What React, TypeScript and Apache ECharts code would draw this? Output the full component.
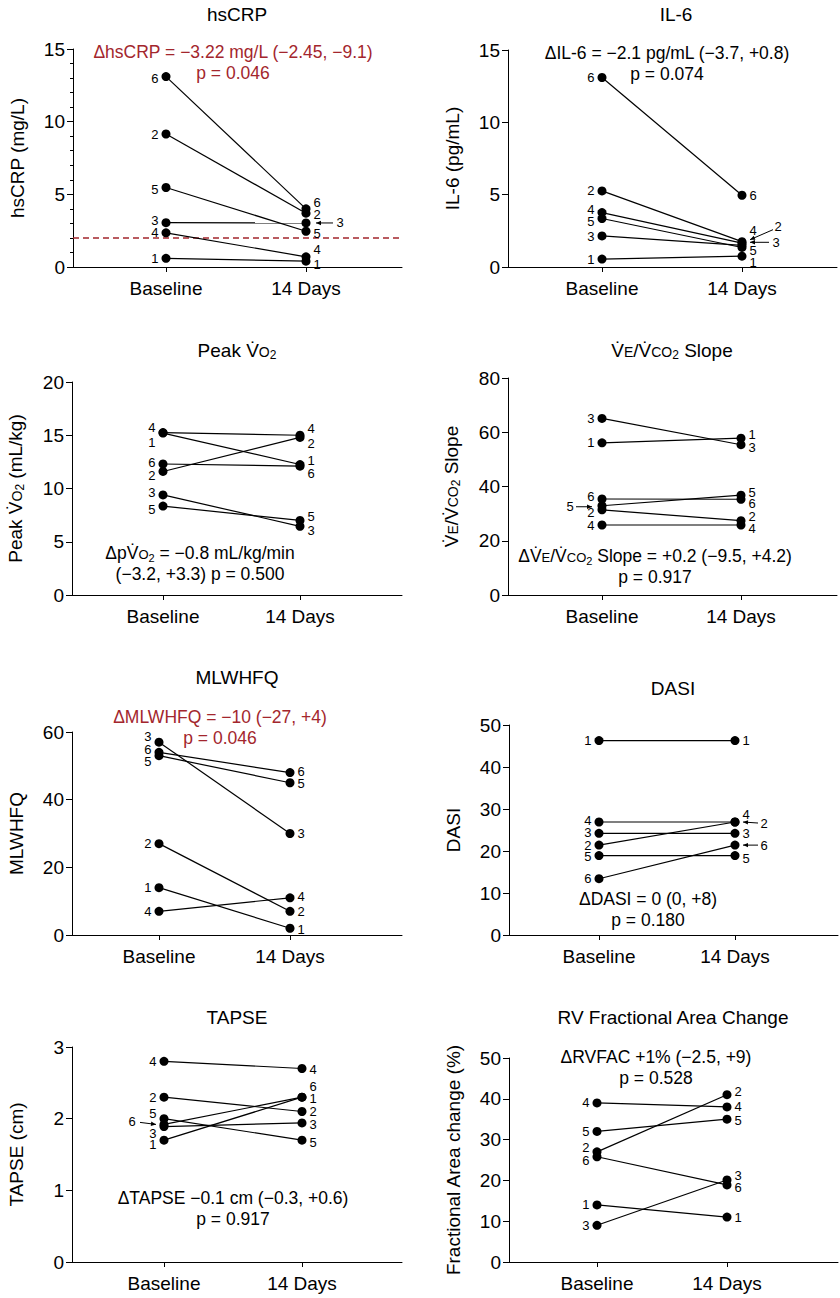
import { useEffect, useRef } from 'react';
import * as echarts from 'echarts';

const FONT = 'Liberation Sans, Arial, Helvetica, sans-serif';
const RED = '#a3262d';

// ---------------- data ----------------
const subjectIds = ['1', '2', '3', '4', '5', '6'];
const timepoints = ['Baseline', '14 Days'];

// values listed for subjects 1..6
const hsCRPBaseline = [0.6, 9.15, 3.05, 2.35, 5.47, 13.1];
const hsCRPDay14 = [0.4, 3.7, 3.03, 0.7, 2.46, 4.0];
const hsCRPThreshold = 2;

const il6Baseline = [0.55, 5.26, 2.15, 3.76, 3.35, 13.1];
const il6Day14 = [0.75, 1.75, 1.5, 1.65, 1.35, 4.96];

const vo2Baseline = [15.2, 11.6, 9.4, 15.25, 8.35, 12.3];
const vo2Day14 = [12.25, 14.8, 6.45, 15.0, 7.0, 12.1];

const veSlopeBaseline = [56.1, 31.4, 65.1, 25.8, 32.9, 35.4];
const veSlopeDay14 = [57.8, 27.4, 55.4, 25.8, 36.8, 35.3];

const mlwhfqBaseline = [14, 27, 57, 7, 53, 54];
const mlwhfqDay14 = [2, 7, 30, 11, 45, 48];

const dasiBaseline = [46.3, 21.4, 24.2, 26.9, 18.9, 13.4];
const dasiDay14 = [46.3, 26.9, 24.2, 26.9, 18.9, 21.4];

const tapseBaseline = [1.7, 2.3, 1.89, 2.8, 2.0, 1.92];
const tapseDay14 = [2.3, 2.1, 1.94, 2.7, 1.7, 2.3];

const rvfacBaseline = [14, 27, 9, 39, 32, 25.8];
const rvfacDay14 = [11, 41, 20.1, 38, 35, 18.9];

const yMax = [15, 15, 20, 80, 60, 50, 3, 50];
const yInterval = [5, 5, 5, 20, 20, 10, 1, 10];

const titles = [
  'hsCRP',
  'IL-6',
  'Peak V\u0307{sc|O}{sub|2}',
  'V\u0307{sc|E}/V\u0307{sc|CO}{sub|2} Slope',
  'MLWHFQ',
  'DASI',
  'TAPSE',
  'RV Fractional Area Change',
];
const yNames = [
  'hsCRP (mg/L)',
  'IL-6 (pg/mL)',
  'Peak V\u0307{sc|O}{sub|2} (mL/kg)',
  'V\u0307{sc|E}/V\u0307{sc|CO}{sub|2} Slope',
  'MLWHFQ',
  'DASI',
  'TAPSE (cm)',
  'Fractional Area change (%)',
];
const notes = [
  ['\u0394hsCRP = \u22123.22 mg/L (\u22122.45, \u22129.1)', 'p = 0.046'],
  ['\u0394IL-6 = \u22122.1 pg/mL (\u22123.7, +0.8)', 'p = 0.074'],
  ['\u0394pV\u0307{sc|O}{sub|2} = \u22120.8 mL/kg/min', '(\u22123.2, +3.3) p = 0.500'],
  ['\u0394V\u0307{sc|E}/V\u0307{sc|CO}{sub|2} Slope = +0.2 (\u22129.5, +4.2)', 'p = 0.917'],
  ['\u0394MLWHFQ = \u221210 (\u221227, +4)', 'p = 0.046'],
  ['\u0394DASI = 0 (0, +8)', 'p = 0.180'],
  ['\u0394TAPSE \u22120.1 cm (\u22120.3, +0.6)', 'p = 0.917'],
  ['\u0394RVFAC +1% (\u22122.5, +9)', 'p = 0.528'],
];
const noteRed = [true, false, false, false, true, false, false, false];

const panelData = [
  [hsCRPBaseline, hsCRPDay14],
  [il6Baseline, il6Day14],
  [vo2Baseline, vo2Day14],
  [veSlopeBaseline, veSlopeDay14],
  [mlwhfqBaseline, mlwhfqDay14],
  [dasiBaseline, dasiDay14],
  [tapseBaseline, tapseDay14],
  [rvfacBaseline, rvfacDay14],
];

// ---------------- layout (pixels) ----------------
// left axis x, right end x, top (max) y, bottom (0) y, baseline x, day14 x
const panelBox = [
  { l: 73, r: 402, t: 49, b: 267, bx: 166, dx: 306 },
  { l: 508, r: 837, t: 50, b: 267, bx: 602, dx: 742 },
  { l: 72, r: 402, t: 382, b: 595, bx: 163, dx: 300 },
  { l: 508, r: 837, t: 378, b: 595, bx: 602, dx: 741 },
  { l: 72, r: 402, t: 732, b: 935, bx: 159, dx: 290 },
  { l: 509, r: 838, t: 725, b: 935, bx: 599, dx: 735 },
  { l: 72, r: 402, t: 1047, b: 1262, bx: 164, dx: 302 },
  { l: 509, r: 838, t: 1058, b: 1262, bx: 597, dx: 727 },
];
const titlePos = [[237, 14], [676, 14], [237, 350], [672, 350], [237, 677], [673, 688], [237, 1017], [673, 1017]];
const notePos = [[233, 52], [667, 53], [200, 553], [655, 556], [220, 717], [648, 899], [233, 1198], [656, 1057]];

// label vertical nudges, subjects 1..6
const nudgeBase = [
  [0, 0, -2, 0, 2, 2],
  [0, 0, 1, -3, 3, 0],
  [9, 4, -2, -5, 3, -2],
  [0, 3, 0, 0, 0, -2],
  [0, 0, -6, 0, 6, -3],
  [0, 0, -1, -2, 1, 0],
  [4, 0, 7, 0, -5, 0],
  [0, -4, 0, 0, 0, 4],
];
const nudgeDay = [
  [3, 1, 0, -7, 2, -6],
  [6, 0, 0, -13, 3, 0],
  [-4, 6, 4, -7, -4, 7],
  [-4, -4, 3, 3, -3, 4],
  [1, 0, 0, -1, 1, -1],
  [0, 0, 0, -8, 3, 0],
  [1, 0, 2, 1, 2, -11],
  [0, -3, -4, 0, 1, 3],
];
// arrow labels: offsets relative to the dot
const arrowLabels = [
  { panel: 0, subject: 3, at: 1, label: [34, 0], from: [27, 0], to: [10, 0] },
  { panel: 1, subject: 2, at: 1, label: [36, -15], from: [31, -12], to: [8, -2] },
  { panel: 1, subject: 3, at: 1, label: [34, -3], from: [27, -3], to: [8, -3] },
  { panel: 3, subject: 5, at: 0, label: [-32, 1], from: [-26, 1], to: [-10, 1] },
  { panel: 5, subject: 2, at: 1, label: [29, 1], from: [23, 1], to: [8, 0] },
  { panel: 5, subject: 6, at: 1, label: [29, 0], from: [23, 0], to: [8, 0] },
  { panel: 6, subject: 6, at: 0, label: [-32, -3], from: [-24, -2], to: [-8, 0] },
];

const BIG = 19;
const NOTE = 17.5;
const PT = 13;

const rich = {
  sc: { fontSize: 14, padding: [3, 0, 0, 0] },
  sub: { fontSize: 12, padding: [10, 0, 0, 0] },
};
const richNote = {
  sc: { fontSize: 13, padding: [3, 0, 0, 0] },
  sub: { fontSize: 11, padding: [9, 0, 0, 0] },
};

function buildOption() {
  const grid: any[] = [];
  const xAxis: any[] = [];
  const yAxis: any[] = [];
  const series: any[] = [];
  panelBox.forEach((bx, p) => {
    const span = bx.dx - bx.bx;
    grid.push({ left: bx.l, top: bx.t, width: bx.r - bx.l, height: bx.b - bx.t, containLabel: false });
    xAxis.push({
      type: 'value',
      gridIndex: p,
      min: -(bx.bx - bx.l) / span,
      max: 1 + (bx.r - bx.dx) / span,
      splitLine: { show: false },
      axisLine: { show: true, onZero: false, lineStyle: { color: '#000', width: 1 } },
      axisTick: { show: true, customValues: [0, 1], length: 5, lineStyle: { color: '#000' } },
      axisLabel: {
        customValues: [0, 1],
        formatter: (v: number) => (v === 0 ? timepoints[0] : v === 1 ? timepoints[1] : ''),
        color: '#000',
        fontSize: BIG,
        fontFamily: FONT,
        margin: 12,
      },
    });
    yAxis.push({
      type: 'value',
      gridIndex: p,
      min: 0,
      max: yMax[p],
      interval: yInterval[p],
      splitLine: { show: false },
      axisLine: { show: true, onZero: false, lineStyle: { color: '#000', width: 1 } },
      axisTick: { show: true, length: 6, lineStyle: { color: '#000' } },
      minorTick: p === 0 ? { show: true, splitNumber: 5, length: 3, lineStyle: { color: '#000' } } : { show: false },
      axisLabel: { color: '#000', fontSize: BIG, fontFamily: FONT, margin: 8 },
      name: yNames[p],
      nameLocation: 'middle',
      nameGap: 46,
      nameTextStyle: { color: '#000', fontSize: BIG, fontFamily: FONT, rich },
    });
    const [base, day] = panelData[p];
    subjectIds.forEach((sid, i) => {
      const hasArrowBase = arrowLabels.some((a) => a.panel === p && a.subject === i + 1 && a.at === 0);
      const hasArrowDay = arrowLabels.some((a) => a.panel === p && a.subject === i + 1 && a.at === 1);
      const s: any = {
        type: 'line',
        xAxisIndex: p,
        yAxisIndex: p,
        symbol: 'circle',
        symbolSize: 9,
        silent: true,
        itemStyle: { color: '#000' },
        lineStyle: { color: '#000', width: 1.2 },
        label: { fontSize: PT, lineHeight: 10, color: '#000', fontFamily: FONT },
        z: 3,
        data: [
          {
            value: [0, base[i]],
            label: { show: !hasArrowBase, position: 'left', distance: 3, offset: [0, nudgeBase[p][i]], formatter: sid },
          },
          {
            value: [1, day[i]],
            label: { show: !hasArrowDay, position: 'right', distance: 3, offset: [0, nudgeDay[p][i]], formatter: sid },
          },
        ],
      };
      if (p === 0 && i === 0) {
        s.markLine = {
          silent: true,
          symbol: 'none',
          label: { show: false },
          lineStyle: { type: [6, 4], color: RED, width: 1.5 },
          data: [{ yAxis: hsCRPThreshold }],
          z: 1,
        };
      }
      series.push(s);
    });
  });
  return {
    animation: false,
    backgroundColor: '#fff',
    textStyle: { fontFamily: FONT },
    grid,
    xAxis,
    yAxis,
    series,
  };
}

export default function App() {
  const ref = useRef<HTMLDivElement>(null);
  useEffect(() => {
    document.body.style.margin = '0';
    if (!ref.current) return;
    const chart = echarts.init(ref.current, null, { renderer: 'svg' });
    chart.setOption(buildOption() as any);

    const elements: any[] = [];
    titles.forEach((t, p) => {
      elements.push({
        type: 'text',
        x: titlePos[p][0],
        y: titlePos[p][1],
        style: { text: t, rich, fontSize: BIG, fontFamily: FONT, fill: '#000', align: 'center', verticalAlign: 'middle' },
      });
    });
    notes.forEach((lines, p) => {
      lines.forEach((ln, k) => {
        elements.push({
          type: 'text',
          x: notePos[p][0],
          y: notePos[p][1] + k * 21,
          style: {
            text: ln,
            rich: richNote,
            fontSize: NOTE,
            lineHeight: 19,
            fontFamily: FONT,
            fill: noteRed[p] ? RED : '#000',
            align: 'center',
            verticalAlign: 'middle',
          },
        });
      });
    });
    arrowLabels.forEach((a) => {
      const v = panelData[a.panel][a.at][a.subject - 1];
      const pt = chart.convertToPixel({ gridIndex: a.panel }, [a.at, v]) as number[];
      const [px, py] = pt;
      elements.push({
        type: 'text',
        x: px + a.label[0],
        y: py + a.label[1],
        style: {
          text: subjectIds[a.subject - 1],
          fontSize: PT,
          lineHeight: 10,
          fontFamily: FONT,
          fill: '#000',
          align: 'center',
          verticalAlign: 'middle',
        },
      });
      const x1 = px + a.from[0];
      const y1 = py + a.from[1];
      const x2 = px + a.to[0];
      const y2 = py + a.to[1];
      elements.push({
        type: 'line',
        shape: { x1, y1, x2, y2 },
        style: { stroke: '#000', lineWidth: 1 },
      });
      const dxv = x2 - x1;
      const dyv = y2 - y1;
      const len = Math.sqrt(dxv * dxv + dyv * dyv) || 1;
      const ux = dxv / len;
      const uy = dyv / len;
      const hl = 5;
      const hw = 2.2;
      elements.push({
        type: 'polygon',
        shape: {
          points: [
            [x2, y2],
            [x2 - ux * hl - uy * hw, y2 - uy * hl + ux * hw],
            [x2 - ux * hl + uy * hw, y2 - uy * hl - ux * hw],
          ],
        },
        style: { fill: '#000' },
      });
    });
    chart.setOption({ graphic: { elements } } as any);

    return () => {
      chart.dispose();
    };
  }, []);
  return <div ref={ref} style={{ width: 840, height: 1298 }} />;
}
